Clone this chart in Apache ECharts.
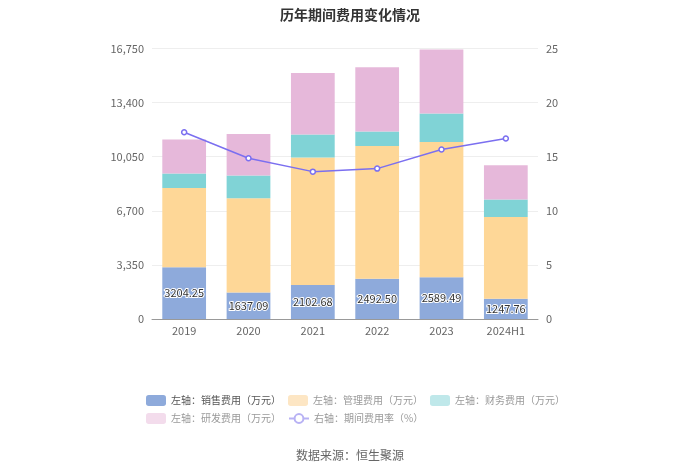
<!DOCTYPE html>
<html>
<head>
<meta charset="utf-8">
<script src="https://cdn.jsdelivr.net/npm/echarts@6/dist/echarts.min.js"></script>
<style>html,body{margin:0;padding:0;background:#fff;}#c{width:700px;height:473px;}</style>
</head>
<body>
<div id="c"></div>
<script>
var categories = ['2019', '2020', '2021', '2022', '2023', '2024H1'];
var salesExp = [3204.25, 1637.09, 2102.68, 2492.50, 2589.49, 1247.76];
var adminExp = [4912, 5838, 7892, 8225, 8376, 5071];
var finExp = [887, 1405, 1424, 888, 1755, 1074];
var rdExp = [2107, 2581, 3821, 3986, 3965, 2127];
var expRate = [17.26, 14.86, 13.62, 13.90, 15.66, 16.68];
var leftTicks = [0, 3350, 6700, 10050, 13400, 16750];

var chart = echarts.init(document.getElementById('c'));
var font = '"Microsoft YaHei","Noto Sans CJK SC",sans-serif';
chart.setOption({
  animation: false,
  textStyle: { fontFamily: font },
  title: {
    text: '历年期间费用变化情况', left: 'center', top: 3,
    textStyle: { fontSize: 14, fontWeight: 'bold', color: '#333', fontFamily: font }
  },
  legend: {
    left: 141, top: 390, width: 440, itemWidth: 20, itemHeight: 11, itemGap: 7,
    textStyle: { fontSize: 10, color: '#999', fontFamily: font },
    data: [
      { name: '左轴：销售费用（万元）', textStyle: { color: '#555' } },
      { name: '左轴：管理费用（万元）', itemStyle: { color: '#fde6c4' } },
      { name: '左轴：财务费用（万元）', itemStyle: { color: '#bfe8ea' } },
      { name: '左轴：研发费用（万元）', itemStyle: { color: '#f3dcec' } },
      { name: '右轴：期间费用率（%）', itemStyle: { color: '#fff', borderColor: '#b8b2f4' }, lineStyle: { color: '#b8b2f4' } }
    ]
  },
  graphic: [{
    type: 'text', left: 'center', top: 449,
    style: { text: '数据来源：恒生聚源', fontSize: 12, fill: '#666', fontFamily: font }
  }],
  grid: { left: 152, right: 162, top: 48.5, bottom: 154 },
  xAxis: {
    type: 'category', data: categories,
    axisLine: { lineStyle: { color: '#999' } },
    axisTick: { alignWithLabel: true, lineStyle: { color: '#999' } },
    axisLabel: { color: '#666', fontSize: 11, margin: 6 }
  },
  yAxis: [{
    type: 'value', min: 0, max: 16750, interval: 3350,
    axisLine: { show: false }, axisTick: { show: false },
    axisLabel: { color: '#666', fontSize: 11, formatter: function (v) { return leftTicks.indexOf(v) >= 0 ? v.toLocaleString('en-US') : ''; } },
    splitLine: { lineStyle: { color: '#eee' } }
  }, {
    type: 'value', min: 0, max: 25, interval: 5,
    axisLine: { show: false }, axisTick: { show: false },
    axisLabel: { color: '#666', fontSize: 11 },
    splitLine: { show: false }
  }],
  series: [{
    name: '左轴：销售费用（万元）', type: 'bar', stack: 'a', data: salesExp, barWidth: '68%',
    itemStyle: { color: '#8eaadb' },
    label: { show: true, position: 'inside', color: '#333', fontSize: 11, textBorderColor: '#fff', textBorderWidth: 2, formatter: function (p) { return p.value.toFixed(2); } }
  }, {
    name: '左轴：管理费用（万元）', type: 'bar', stack: 'a', data: adminExp,
    itemStyle: { color: '#fed797' }
  }, {
    name: '左轴：财务费用（万元）', type: 'bar', stack: 'a', data: finExp,
    itemStyle: { color: '#80d3d6' }
  }, {
    name: '左轴：研发费用（万元）', type: 'bar', stack: 'a', data: rdExp,
    itemStyle: { color: '#e6b8da' }
  }, {
    name: '右轴：期间费用率（%）', type: 'line', yAxisIndex: 1, data: expRate,
    symbol: 'circle', symbolSize: 5, z: 10,
    lineStyle: { color: '#7b6ff0', width: 1.5 },
    itemStyle: { color: '#fff', borderColor: '#7b6ff0', borderWidth: 1.5 }
  }]
});
</script>
</body>
</html>
